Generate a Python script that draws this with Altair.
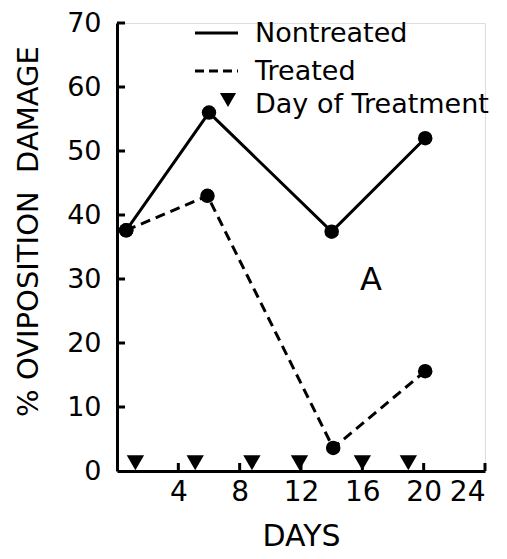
import altair as alt
import pandas as pd

# ---- data ----
days_nt = [0.6, 6.0, 14.0, 20.1]
damage_nt = [37.6, 56.0, 37.4, 52.0]
days_t = [0.6, 5.9, 14.1, 20.1]
damage_t = [37.6, 43.0, 3.6, 15.6]
treat_days = [1.2, 5.1, 8.8, 11.9, 16.0, 19.0]
treat_level = [1.3, 1.3, 1.3, 1.3, 1.3, 1.3]
x_ticks = [4, 8, 12, 16, 20, 24]
y_ticks = [0, 10, 20, 30, 40, 50, 60, 70]
legend_labels = ["Nontreated", "Treated", "Day of Treatment"]
panel_label = "A"

W, H = 368, 448
FONT = "DejaVu Sans"

nt = pd.DataFrame({"day": days_nt, "damage": damage_nt})
tr = pd.DataFrame({"day": days_t, "damage": damage_t})
td = pd.DataFrame({"day": treat_days, "damage": treat_level})
xt = pd.DataFrame({"day": x_ticks})
yt = pd.DataFrame({"damage": [v for v in y_ticks if v > 0]})
one = pd.DataFrame({"k": [0]})

xsc = alt.Scale(domain=[0, 24], nice=False, zero=False)
ysc = alt.Scale(domain=[0, 70], nice=False, zero=False)

xaxis = alt.Axis(values=x_ticks, tickSize=0, domainWidth=3, domainColor="black",
                 labelFontSize=28, labelFont=FONT, labelColor="black", labelPadding=7,
                 title="DAYS", titleFont=FONT, titleFontSize=30, titleFontWeight="normal",
                 titleColor="black", titlePadding=15, grid=False)
yaxis = alt.Axis(values=y_ticks, tickSize=0, domainWidth=3, domainColor="black",
                 labelFontSize=27, labelFont=FONT, labelColor="black", labelPadding=16,
                 title="% OVIPOSITION\u00a0\u00a0DAMAGE", titleFont=FONT, titleFontSize=29,
                 titleFontWeight="normal", titleColor="black", titlePadding=23,
                 titleY=208, grid=False)

X = alt.X("day:Q", scale=xsc, axis=xaxis)
Y = alt.Y("damage:Q", scale=ysc, axis=yaxis)

line_nt = alt.Chart(nt).mark_line(color="black", strokeWidth=3).encode(x=X, y=Y)
pts_nt = alt.Chart(nt).mark_point(filled=True, color="black", opacity=1, size=210).encode(x=X, y=Y)
line_t = alt.Chart(tr).mark_line(color="black", strokeWidth=3, strokeDash=[10, 6]).encode(x=X, y=Y)
pts_t = alt.Chart(tr).mark_point(filled=True, color="black", opacity=1, size=210).encode(x=X, y=Y)
tri = alt.Chart(td).mark_point(shape="triangle-down", filled=True, color="black",
                               opacity=1, size=300).encode(x=X, y=Y)

# inward ticks
ytk = alt.Chart(yt).mark_rule(color="black", strokeWidth=3).encode(
    y=Y, x=alt.value(0), x2=alt.value(8))
xtk = alt.Chart(xt).mark_rule(color="black", strokeWidth=3).encode(
    x=X, y=alt.value(H), y2=alt.value(H - 8))

# manual legend
leg_solid = alt.Chart(one).mark_rule(color="black", strokeWidth=3).encode(
    x=alt.value(78), x2=alt.value(121), y=alt.value(10))
leg_dash = alt.Chart(one).mark_rule(color="black", strokeWidth=3, strokeDash=[9, 5]).encode(
    x=alt.value(78), x2=alt.value(121), y=alt.value(48))
leg_tri = alt.Chart(one).mark_point(shape="triangle-down", filled=True, color="black",
                                    opacity=1, size=260).encode(
    x=alt.value(111), y=alt.value(77))
leg_txt = []
for lab, yy in zip(legend_labels, [11, 49, 82]):
    leg_txt.append(alt.Chart(one).mark_text(align="left", baseline="middle", font=FONT,
                                            fontSize=27, color="black").encode(
        x=alt.value(138), y=alt.value(yy), text=alt.value(lab)))

lab_a = alt.Chart(one).mark_text(align="center", baseline="middle", font=FONT,
                                 fontSize=32, color="black").encode(
    x=alt.value(254), y=alt.value(257), text=alt.value(panel_label))

chart = alt.layer(
    line_nt, line_t, pts_nt, pts_t, tri, ytk, xtk,
    leg_solid, leg_dash, leg_tri, *leg_txt, lab_a
).properties(
    width=W, height=H,
    autosize=alt.AutoSizeParams(type="none"),
    padding={"left": 109, "top": 15, "right": 12, "bottom": 80},
).configure_view(strokeWidth=0).configure(background="white")

chart.save("out.html", embed_options={"renderer": "svg", "actions": False})
